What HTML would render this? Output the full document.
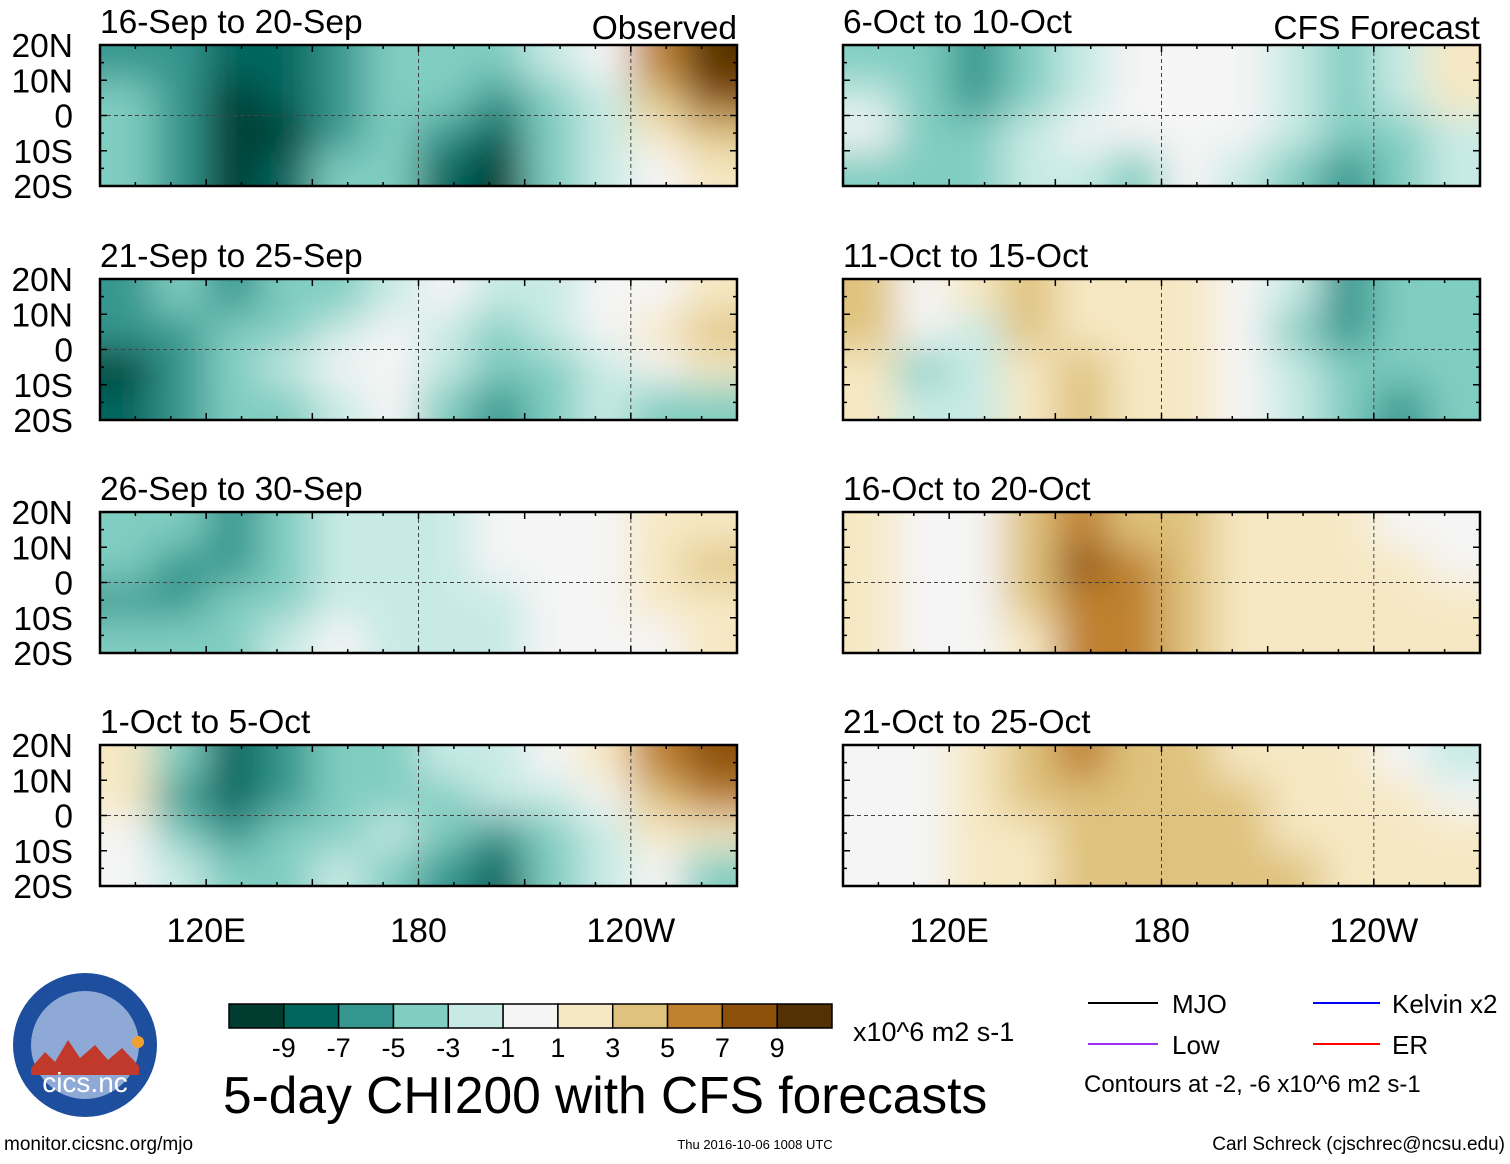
<!DOCTYPE html>
<html>
<head>
<meta charset="utf-8">
<style>
  html,body{margin:0;padding:0;background:#fff;}
  body{width:1510px;height:1159px;overflow:hidden;font-family:"Liberation Sans",Arial,sans-serif;}
  svg text{font-family:"Liberation Sans",Arial,sans-serif;}
</style>
</head>
<body>
<svg id="chart" width="1510" height="1159" viewBox="0 0 1510 1159" xmlns="http://www.w3.org/2000/svg">
  <defs>
    <filter id="blur" x="-10%" y="-30%" width="120%" height="160%">
      <feGaussianBlur stdDeviation="20"/>
    </filter>
  </defs>
  <g id="panels"></g>
  <g id="axes"></g>

  <g id="colorbar"></g>
  <text x="853" y="1041" font-size="27">x10^6 m2 s-1</text>

  <g>
    <line x1="1088" y1="1003" x2="1158" y2="1003" stroke="#000" stroke-width="2"/>
    <text x="1172" y="1013" font-size="26">MJO</text>
    <line x1="1088" y1="1044" x2="1158" y2="1044" stroke="#a030f0" stroke-width="2"/>
    <text x="1172" y="1054" font-size="26">Low</text>
    <line x1="1313" y1="1003" x2="1380" y2="1003" stroke="#0000ff" stroke-width="2"/>
    <text x="1392" y="1013" font-size="26">Kelvin x2</text>
    <line x1="1313" y1="1044" x2="1380" y2="1044" stroke="#ff0000" stroke-width="2"/>
    <text x="1392" y="1054" font-size="26">ER</text>
    <text x="1084" y="1092" font-size="24">Contours at -2, -6 x10^6 m2 s-1</text>
  </g>

  <text x="223" y="1113" font-size="51.5">5-day CHI200 with CFS forecasts</text>

  <g>
    <circle cx="85" cy="1045" r="72" fill="#1d4f9e"/>
    <circle cx="85" cy="1045" r="54" fill="#8fa9d6"/>
    <path d="M31,1068 L45,1052 L55,1062 L68,1040 L80,1058 L95,1045 L108,1060 L122,1048 L139,1066 L139,1075 L31,1075 Z" fill="#c0392b"/>
    <circle cx="138" cy="1042" r="6" fill="#f0a030"/>
    <text x="85" y="1092" font-size="28" fill="#fff" text-anchor="middle">cics.nc</text>
  </g>

  <text x="4" y="1150" font-size="19">monitor.cicsnc.org/mjo</text>
  <text x="755" y="1149" font-size="13" text-anchor="middle">Thu 2016-10-06 1008 UTC</text>
  <text x="1505" y="1150" font-size="19" text-anchor="end">Carl Schreck (cjschrec@ncsu.edu)</text>
</svg>
<script>
// Field values per panel: rows 20N-10N, 10N-0, 0-10S, 10S-20S; columns 15° bands from 90E to 270E
const p1 = [[-5,-5,-7,-7,-5,-3,-3,-3,-1,0,5,9],[-3,-5,-9,-7,-5,-3,-3,-5,-3,-1,3,7],[-3,-5,-9,-9,-5,-3,-5,-7,-3,-1,1,3],[-3,-5,-9,-7,-3,-3,-7,-9,-3,-1,0,1]];
const p2 = [[-5,-3,-5,-3,-3,-1,0,-1,-1,0,0,1],[-5,-5,-3,-3,-1,0,-1,-3,-1,0,1,3],[-9,-5,-3,-1,0,0,-1,-3,-3,-1,0,1],[-7,-5,-3,-3,-1,0,-3,-5,-3,-1,-3,-3]];
const p3 = [[-3,-3,-5,-3,-1,-1,-1,0,0,0,1,1],[-3,-5,-5,-3,-1,-1,-1,0,0,0,1,3],[-5,-5,-3,-3,-1,-1,-1,-1,0,0,1,1],[-3,-3,-3,-1,0,-1,-1,-1,0,0,0,1]];
const p4 = [[1,-3,-7,-5,-3,-3,-1,-1,0,1,5,7],[1,-5,-7,-5,-3,-3,-3,-1,-1,0,3,5],[0,-3,-5,-3,-3,-1,-3,-5,-3,-1,1,1],[0,-1,-3,-3,-1,-3,-5,-7,-3,-1,0,-3]];
const p5 = [[-3,-3,-5,-3,-1,0,0,0,-1,-3,-1,1],[-1,-3,-5,-3,-1,0,0,0,-1,-3,-1,1],[0,-3,-3,-1,0,0,0,0,-1,-3,-3,-1],[-3,-3,-3,-1,-1,-3,0,-1,-3,-5,-3,-1]];
const p6 = [[3,0,1,3,1,1,1,0,-1,-5,-3,-3],[3,0,-1,3,1,1,1,0,-3,-5,-3,-3],[1,-3,-1,1,3,1,1,0,-1,-3,-3,-3],[1,-1,-1,1,3,1,1,0,-1,-3,-5,-3]];
const p7 = [[1,0,0,3,5,3,3,1,1,1,0,0],[1,0,0,3,7,5,3,1,1,1,1,0],[1,0,0,3,5,5,3,1,1,1,1,1],[1,0,0,1,5,5,3,1,1,1,1,1]];
const p8 = [[0,0,1,3,5,3,3,1,1,1,0,-1],[0,0,1,3,3,3,3,3,1,1,1,0],[0,0,1,1,3,3,3,3,1,1,1,1],[0,0,1,1,3,3,3,3,3,1,1,1]];
const titles = ["16-Sep to 20-Sep","21-Sep to 25-Sep","26-Sep to 30-Sep","1-Oct to 5-Oct","6-Oct to 10-Oct","11-Oct to 15-Oct","16-Oct to 20-Oct","21-Oct to 25-Oct"];
const latTickLabels = ["20N","10N","0","10S","20S"];
const latTicks = [20,10,0,-10,-20];
const lonTickLabels = ["120E","180","120W"];
const lonTicks = [120,180,240];
const cbLabels = [-9,-7,-5,-3,-1,1,3,5,7,9];
const palette = ["#003c30","#01665e","#35978f","#80cdc1","#c7eae5","#f5f5f5","#f6e8c3","#dfc27d","#bf812d","#8c510a","#543005"];

const fields = [p1,p2,p3,p4,p5,p6,p7,p8];
const NS="http://www.w3.org/2000/svg";
const rowTops=[45,279,512,745], H=141;
const colLeft=[100,843], W=637;
function mk(tag,attrs,parent){const e=document.createElementNS(NS,tag);for(const k in attrs)e.setAttribute(k,attrs[k]);parent.appendChild(e);return e;}
function colorOf(v){
  let i;
  if(v<0) i=Math.round((v+9)/2);
  else if(v===0) i=5;
  else i=Math.round((v+11)/2);
  i=Math.max(0,Math.min(10,i));return palette[i];
}
const panels=document.getElementById('panels');
const axes=document.getElementById('axes');

fields.forEach((f,pi)=>{
  const col=pi<4?0:1, row=pi%4;
  const L=colLeft[col], T=rowTops[row];
  const xs=lon=>L+(lon-90)/180*W;
  const ys=lat=>T+(20-lat)/40*H;
  const g=mk('g',{},panels);
  
  
  const cid='clip'+pi;
  const cp=mk('clipPath',{id:cid},g);
  mk('rect',{x:L,y:T,width:W,height:H},cp);
  const clipG=mk('g',{'clip-path':'url(#'+cid+')'},g);
  const heat=mk('g',{filter:'url(#blur)'},clipG);
  const nr=f.length, nc=f[0].length;
  const dlon=180/nc, dlat=40/nr;
  for(let r=0;r<nr;r++)for(let c=0;c<nc;c++){
    let x0=xs(90+c*dlon), x1=xs(90+(c+1)*dlon);
    let y0=ys(20-r*dlat), y1=ys(20-(r+1)*dlat);
    if(c===0)x0-=50; if(c===nc-1)x1+=50;
    if(r===0)y0-=50; if(r===nr-1)y1+=50;
    const cell=mk('rect',{x:x0,y:y0,width:x1-x0+1,height:y1-y0+1,fill:colorOf(f[r][c])},heat);
    
    
  }
  mk('line',{x1:L,y1:ys(0),x2:L+W,y2:ys(0),stroke:'#444','stroke-width':1,'stroke-dasharray':'4,3'},g);
  [180,240].forEach(lon=>mk('line',{x1:xs(lon),y1:T,x2:xs(lon),y2:T+H,stroke:'#444','stroke-width':1,'stroke-dasharray':'4,3'},g));
  const fr=mk('rect',{x:L,y:T,width:W,height:H,fill:'none',stroke:'#000','stroke-width':2.5},g);
  
  
  for(let lon=90;lon<=270;lon+=10){
    const len=lon%30===0?7:4;
    mk('line',{x1:xs(lon),y1:T,x2:xs(lon),y2:T+len,stroke:'#000','stroke-width':1.5},g);
    mk('line',{x1:xs(lon),y1:T+H,x2:xs(lon),y2:T+H-len,stroke:'#000','stroke-width':1.5},g);
  }
  for(let lat=-20;lat<=20;lat+=5){
    const len=lat%10===0?7:4;
    mk('line',{x1:L,y1:ys(lat),x2:L+len,y2:ys(lat),stroke:'#000','stroke-width':1.5},g);
    mk('line',{x1:L+W,y1:ys(lat),x2:L+W-len,y2:ys(lat),stroke:'#000','stroke-width':1.5},g);
  }
  const t=mk('text',{x:L,y:T-12,'font-size':33.5},g);
  t.textContent=titles[pi];
  
  
  if(row===0){
    const s=mk('text',{x:L+W,y:T-6,'font-size':33.5,'text-anchor':'end'},g);
    s.textContent=col===0?'Observed':'CFS Forecast';
    
    
  }
  if(col===0){
    latTicks.forEach((lat,i)=>{
      const tl=mk('text',{x:73,y:ys(lat)+12,'font-size':33.5,'text-anchor':'end'},axes);
      tl.textContent=latTickLabels[i];
      
      
    });
  }
  if(row===3){
    lonTicks.forEach((lon,i)=>{
      const tl=mk('text',{x:xs(lon),y:942,'font-size':34,'text-anchor':'middle'},axes);
      tl.textContent=lonTickLabels[i];
      
      
    });
  }
});

const cb=document.getElementById('colorbar');
const cbL=229, cbW=603, cbT=1004, cbH=24, bw=cbW/palette.length;
palette.forEach((c,i)=>{
  const r=mk('rect',{x:cbL+i*bw,y:cbT,width:bw,height:cbH,fill:c,stroke:'#000','stroke-width':1.5},cb);
  
  
});
cbLabels.forEach((v,i)=>{
  const t=mk('text',{x:cbL+(i+1)*bw,y:1057,'font-size':27,'text-anchor':'middle'},cb);
  t.textContent=v;
  
  
});
</script>
</body>
</html>
